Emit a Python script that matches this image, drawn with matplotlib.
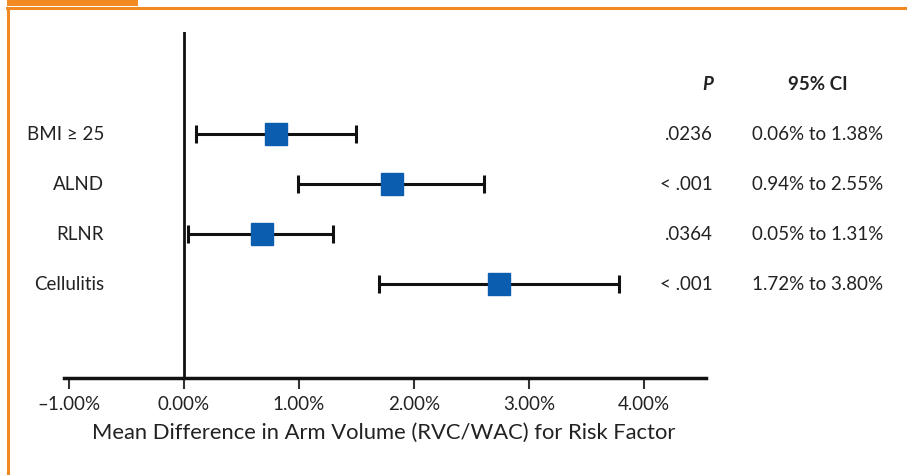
import matplotlib.pyplot as plt
from matplotlib.patches import Rectangle
from matplotlib.lines import Line2D

# risk factors, top to bottom
factors = ['BMI \u2265 25', 'ALND', 'RLNR', 'Cellulitis']
means = [0.80, 1.81, 0.68, 2.74]
lows = [0.11, 0.99, 0.04, 1.70]
highs = [1.50, 2.61, 1.30, 3.78]
pvals = ['.0236', '< .001', '.0364', '< .001']
cis = ['0.06% to 1.38%', '0.94% to 2.55%', '0.05% to 1.31%', '1.72% to 3.80%']
xticks = [-1, 0, 1, 2, 3, 4]

plt.rcParams['font.family'] = ['Lato', 'DejaVu Sans']
orange = '#f28a24'
blue = '#0b5db0'
txt = '#222222'
W, H = 907, 475

fig = plt.figure(figsize=(W / 100, H / 100), dpi=100)
ax = fig.add_axes([64 / W, 1 - 378 / H, (706 - 64) / W, (378 - 32) / H])

ypos = [4, 3, 2, 1]
err = [[m - l for m, l in zip(means, lows)], [h - m for m, h in zip(means, highs)]]
ax.errorbar(means, ypos, xerr=err, fmt='none', ecolor='#111111', elinewidth=2.2,
            capsize=6.5, capthick=2.2, zorder=2)
ax.plot(means, ypos, 's', color=blue, markersize=16, zorder=3)

ax.axvline(0, color='#111111', lw=2.0, zorder=1)
ax.set_xlim(-1.04, 4.54)
ax.set_ylim(-0.88, 6.04)

for s in ['top', 'right', 'left']:
    ax.spines[s].set_visible(False)
ax.spines['bottom'].set_linewidth(2.5)
ax.spines['bottom'].set_color('#111111')

ax.set_yticks([])
ax.set_xticks(xticks)
ax.set_xticklabels([('\u2013' if v < 0 else '') + '%.2f%%' % abs(v) for v in xticks],
                   fontsize=13.5, color=txt)
ax.tick_params(axis='x', direction='out', length=8, width=1.5, color='#333333', pad=5)

# row labels and table columns (figure pixel coords)
for i, y in enumerate(ypos):
    ypx = 134 + (4 - y) * 50
    fig.text(104 / W, 1 - ypx / H, factors[i], ha='right', va='center',
             fontsize=13.5, color=txt)
    fig.text(713 / W, 1 - ypx / H, pvals[i], ha='right', va='center',
             fontsize=13.5, color=txt)
    fig.text(818 / W, 1 - ypx / H, cis[i], ha='center', va='center',
             fontsize=13.5, color=txt)

fig.text(713 / W, 1 - 84 / H, 'P', ha='right', va='center', fontsize=13.5,
         fontweight='bold', fontstyle='italic', color=txt)
fig.text(818 / W, 1 - 84 / H, '95% CI', ha='center', va='center', fontsize=13.5,
         fontweight='bold', color=txt)

fig.text(384 / W, 1 - 433 / H, 'Mean Difference in Arm Volume (RVC/WAC) for Risk Factor',
         ha='center', va='center', fontsize=15.8, color=txt)

# orange frame and tab
fig.add_artist(Rectangle((7 / W, 1 - 6 / H), (138 - 7) / W, 6 / H,
                         transform=fig.transFigure, color=orange, lw=0))
fig.add_artist(Line2D([7 / W, 1], [1 - 8 / H, 1 - 8 / H], transform=fig.transFigure,
                      color=orange, lw=2.2))
fig.add_artist(Line2D([8 / W, 8 / W], [0, 1 - 8 / H], transform=fig.transFigure,
                      color=orange, lw=2.2))

fig.savefig('out.png', dpi=100)
